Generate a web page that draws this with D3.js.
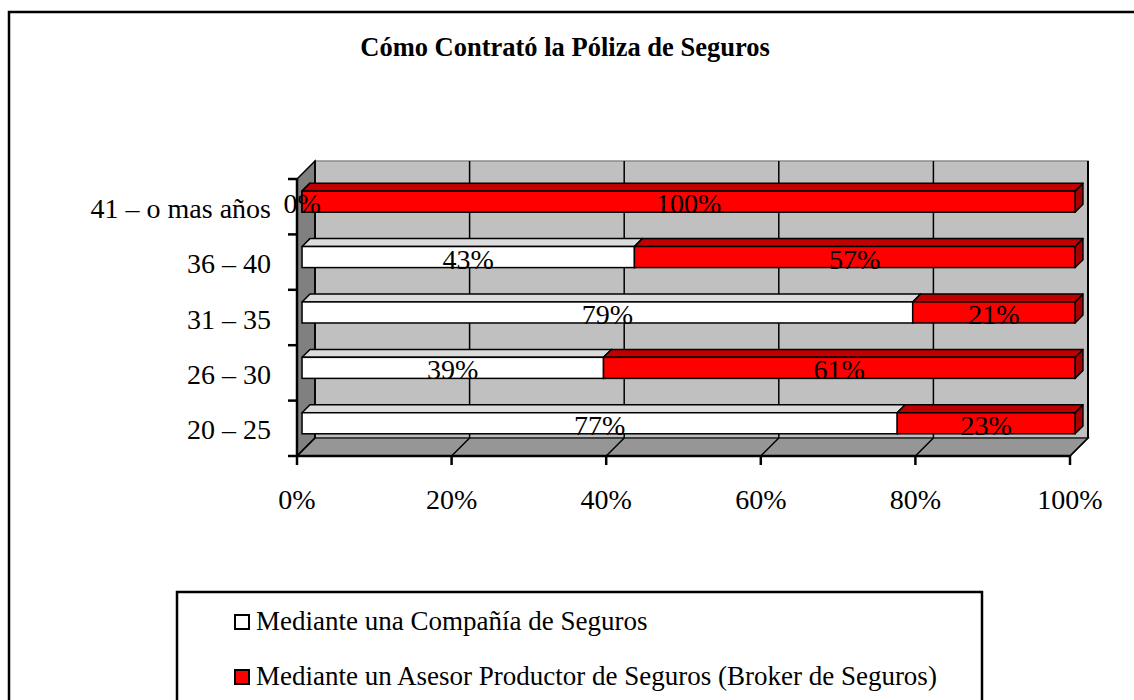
<!DOCTYPE html>
<html>
<head>
<meta charset="utf-8">
<script src="https://cdn.jsdelivr.net/npm/d3@7"></script>
<style>
  body { margin: 0; background: #fff; }
  text { font-family: "Liberation Serif", "Times New Roman", serif; fill: #000; }
</style>
</head>
<body>
<div id="chart"></div>
<script>
const title = "Cómo Contrató la Póliza de Seguros";
const categories = ["41 – o mas años", "36 – 40", "31 – 35", "26 – 30", "20 – 25"];
const seriesNames = ["Mediante una Compañía de Seguros", "Mediante un Asesor Productor de Seguros (Broker de Seguros)"];
const compania = [0, 43, 79, 39, 77];
const broker = [100, 57, 21, 61, 23];
const xTicks = [0, 20, 40, 60, 80, 100];

// colours per series: front, top, side
const faces = [
  { front: "#ffffff", top: "#dcdcdc", side: "#c0c0c0" },
  { front: "#ff0000", top: "#c00000", side: "#a80000" }
];

const W = 1134, H = 700;
const svg = d3.select("#chart").append("svg").attr("width", W).attr("height", H);

// outer frame (runs off the picture on the right and bottom)
svg.append("rect").attr("x", 9).attr("y", 12).attr("width", 1140).attr("height", 720)
  .attr("fill", "none").attr("stroke", "#000").attr("stroke-width", 2.5);

svg.append("text").attr("x", 565).attr("y", 56).attr("text-anchor", "middle")
  .style("font-size", "26.5px").style("font-weight", "bold").text(title);

// plot geometry (front plane) and 3D depth
const x0 = 297, x1 = 1070, yT = 179, yB = 456, D = 18;
const x = d3.scaleLinear().domain([0, 100]).range([x0, x1]);
const y = d3.scaleBand().domain(categories).range([yT, yB]).paddingInner(0).paddingOuter(0);

const g = svg.append("g");

// back wall
g.append("polygon")
  .attr("points", [[x0 + D, yT - D], [x1 + D, yT - D], [x1 + D, yB - D], [x0 + D, yB - D]].join(" "))
  .attr("fill", "#c0c0c0").attr("stroke", "#8c8c8c").attr("stroke-width", 1.5);
// left wall
g.append("polygon")
  .attr("points", [[x0, yT], [x0 + D, yT - D], [x0 + D, yB - D], [x0, yB]].join(" "))
  .attr("fill", "#808080").attr("stroke", "#000").attr("stroke-width", 1.5);
// floor
g.append("polygon")
  .attr("points", [[x0, yB], [x0 + D, yB - D], [x1 + D, yB - D], [x1, yB]].join(" "))
  .attr("fill", "#969696").attr("stroke", "#222").attr("stroke-width", 1.5);

// gridlines on back wall continuing across the floor
g.selectAll(".grid").data(xTicks).enter().append("polyline")
  .attr("points", d => [[x(d) + D, yT - D], [x(d) + D, yB - D], [x(d), yB]].join(" "))
  .attr("fill", "none").attr("stroke", "#000").attr("stroke-width", 1.5);

// right edge of back wall
g.append("line").attr("x1", x1 + D).attr("x2", x1 + D).attr("y1", yT - D).attr("y2", yB - D)
  .attr("stroke", "#000").attr("stroke-width", 2);

// axes
g.append("line").attr("x1", x0).attr("x2", x0).attr("y1", yT).attr("y2", yB)
  .attr("stroke", "#000").attr("stroke-width", 2.5);
g.append("line").attr("x1", x0).attr("x2", x1).attr("y1", yB).attr("y2", yB)
  .attr("stroke", "#000").attr("stroke-width", 2.5);

const yTicks = categories.map(c => y(c)).concat([yB]);
g.selectAll(".ytick").data(yTicks).enter().append("line")
  .attr("x1", x0 - 9).attr("x2", x0).attr("y1", d => d).attr("y2", d => d)
  .attr("stroke", "#000").attr("stroke-width", 2.5);
g.selectAll(".xtick").data(xTicks).enter().append("line")
  .attr("x1", d => x(d)).attr("x2", d => x(d)).attr("y1", yB).attr("y2", yB + 9)
  .attr("stroke", "#000").attr("stroke-width", 2.5);

// tick labels
g.selectAll(".xlab").data(xTicks).enter().append("text")
  .attr("x", d => x(d)).attr("y", 509).attr("text-anchor", "middle")
  .style("font-size", "28px").text(d => d + "%");
g.selectAll(".ylab").data(categories).enter().append("text")
  .attr("x", 271).attr("y", d => y(d) + y.bandwidth() / 2 + 11).attr("text-anchor", "end")
  .style("font-size", "28px").text(d => d);

// stacked 3D bars
const z0 = 0.28 * D, z1 = 0.72 * D, dz = z1 - z0;
const barH = y.bandwidth() * 0.38;
const stacked = categories.map((c, i) => {
  const vals = [compania[i], broker[i]];
  let acc = 0;
  return vals.map((v, s) => { const seg = { cat: c, s, a: acc, b: acc + v, v }; acc += v; return seg; });
});

stacked.forEach(segs => {
  segs.forEach(seg => {
    const cy = y(seg.cat) + y.bandwidth() / 2;
    const L = x(seg.a) + z0, R = x(seg.b) + z0;
    const t = cy - barH / 2 - z0, b = cy + barH / 2 - z0;
    const f = faces[seg.s];
    const bg = g.append("g");
    bg.append("polygon")
      .attr("points", [[R, t], [R + dz, t - dz], [R + dz, b - dz], [R, b]].join(" "))
      .attr("fill", f.side).attr("stroke", "#000").attr("stroke-width", 1.5).attr("stroke-linejoin", "round");
    bg.append("polygon")
      .attr("points", [[L, t], [L + dz, t - dz], [R + dz, t - dz], [R, t]].join(" "))
      .attr("fill", f.top).attr("stroke", "#000").attr("stroke-width", 1.5).attr("stroke-linejoin", "round");
    bg.append("rect").attr("x", L).attr("y", t).attr("width", R - L).attr("height", b - t)
      .attr("fill", f.front).attr("stroke", "#000").attr("stroke-width", 1.5);
  });
});

// data labels
stacked.forEach(segs => {
  segs.forEach(seg => {
    const cy = y(seg.cat) + y.bandwidth() / 2;
    const b = cy + barH / 2 - z0;
    g.append("text")
      .attr("x", (x(seg.a) + x(seg.b)) / 2 + z0).attr("y", b + 1)
      .attr("text-anchor", "middle").style("font-size", "28px").text(seg.v + "%");
  });
});

// legend
const leg = svg.append("g");
leg.append("rect").attr("x", 177).attr("y", 592).attr("width", 805).attr("height", 140)
  .attr("fill", "#fff").attr("stroke", "#000").attr("stroke-width", 2.5);
seriesNames.forEach((name, i) => {
  const ly = 615 + i * 55;
  leg.append("rect").attr("x", 235).attr("y", ly).attr("width", 14).attr("height", 14)
    .attr("fill", faces[i].front).attr("stroke", "#000").attr("stroke-width", 2);
  leg.append("text").attr("x", 256).attr("y", ly + 15).style("font-size", "27px").text(name);
});
</script>
</body>
</html>
